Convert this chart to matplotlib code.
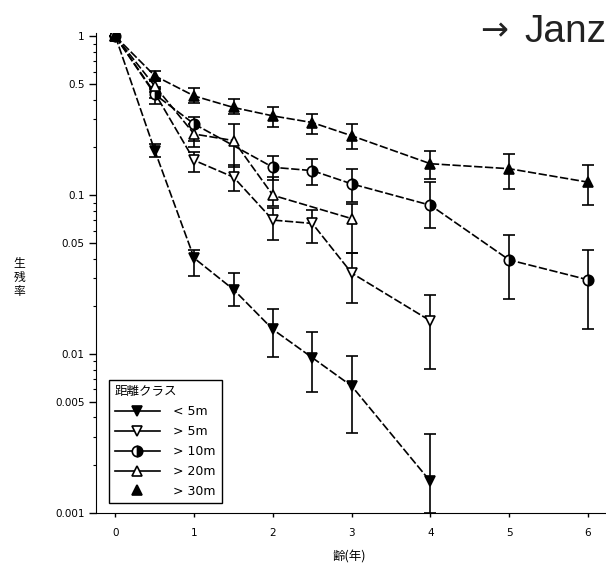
import numpy as np
import matplotlib
matplotlib.use('Agg')
import matplotlib.pyplot as plt
from matplotlib.lines import Line2D

plt.rcParams['font.family'] = ['DejaVu Sans', 'Noto Sans CJK JP']

# survival by distance class: age (years), mean, upper and lower error limits
age_lt5 = [0, 0.5, 1, 1.5, 2, 2.5, 3, 4]
surv_lt5 = [1.0, 0.191, 0.0402, 0.0255, 0.0143, 0.0095, 0.0063, 0.00158]
up_lt5 = [1.0, 0.21, 0.0452, 0.0324, 0.0191, 0.0137, 0.0097, 0.00316]
lo_lt5 = [1.0, 0.174, 0.0311, 0.0202, 0.0096, 0.0058, 0.0032, 0.001]

age_gt5 = [0, 0.5, 1, 1.5, 2, 2.5, 3, 4]
surv_gt5 = [1.0, 0.44, 0.166, 0.130, 0.0698, 0.0665, 0.0324, 0.0162]
up_gt5 = [1.0, 0.47, 0.187, 0.154, 0.0826, 0.0806, 0.0432, 0.0237]
lo_gt5 = [1.0, 0.41, 0.140, 0.107, 0.0522, 0.0499, 0.0210, 0.00805]

age_gt10 = [0, 0.5, 1, 2, 2.5, 3, 4, 5, 6]
surv_gt10 = [1.0, 0.432, 0.281, 0.150, 0.143, 0.118, 0.0866, 0.0392, 0.0294]
up_gt10 = [1.0, 0.48, 0.31, 0.178, 0.169, 0.147, 0.121, 0.0562, 0.0453]
lo_gt10 = [1.0, 0.374, 0.20, 0.124, 0.116, 0.091, 0.0619, 0.0221, 0.0143]

age_gt20 = [0, 0.5, 1, 1.5, 2, 3]
surv_gt20 = [1.0, 0.487, 0.243, 0.221, 0.100, 0.0713]
up_gt20 = [1.0, 0.53, 0.28, 0.281, 0.13, 0.0887]
lo_gt20 = [1.0, 0.45, 0.22, 0.150, 0.085, 0.0432]

age_gt30 = [0, 0.5, 1, 1.5, 2, 2.5, 3, 4, 5, 6]
surv_gt30 = [1.0, 0.565, 0.422, 0.357, 0.316, 0.287, 0.237, 0.158, 0.147, 0.121]
up_gt30 = [1.0, 0.604, 0.476, 0.402, 0.358, 0.324, 0.281, 0.191, 0.182, 0.154]
lo_gt30 = [1.0, 0.523, 0.380, 0.324, 0.269, 0.243, 0.196, 0.127, 0.110, 0.0866]

labels = ['< 5m', '> 5m', '> 10m', '> 20m', '> 30m']
yticks = [1, 0.5, 0.1, 0.05, 0.01, 0.005, 0.001]
yticklabels = ['1', '0.5', '0.1', '0.05', '0.01', '0.005', '0.001']
xticks = [0, 1, 2, 3, 4, 5, 6]

fig = plt.figure(figsize=(6.06, 5.70), dpi=100)
ax = fig.add_axes([0.158, 0.10, 0.842, 0.842])

styles = [
    dict(marker='v', mfc='k', mec='k'),
    dict(marker='v', mfc='white', mec='k'),
    dict(marker='o', mfc='k', mec='k', fillstyle='right', markerfacecoloralt='white'),
    dict(marker='^', mfc='white', mec='k'),
    dict(marker='^', mfc='k', mec='k'),
]
series = [
    (age_lt5, surv_lt5, up_lt5, lo_lt5),
    (age_gt5, surv_gt5, up_gt5, lo_gt5),
    (age_gt10, surv_gt10, up_gt10, lo_gt10),
    (age_gt20, surv_gt20, up_gt20, lo_gt20),
    (age_gt30, surv_gt30, up_gt30, lo_gt30),
]

for (x, y, up, lo), st in zip(series, styles):
    x = np.array(x); y = np.array(y); up = np.array(up); lo = np.array(lo)
    ax.errorbar(x, y, yerr=[y - lo, up - y], fmt='none', ecolor='k',
                elinewidth=1.2, capsize=4.5, capthick=1.2, zorder=2)
    ax.plot(x, y, color='k', lw=1.2, ls=(0, (5, 1.5)), ms=7.5, mew=1.2,
            zorder=3, **st)

ax.set_yscale('log')
ax.set_ylim(0.001, 1.05)
ax.set_xlim(-0.25, 6.23)
ax.set_yticks(yticks)
ax.set_yticklabels(yticklabels)
ax.set_xticks(xticks)
ax.set_xticklabels([str(t) for t in xticks])
ax.spines['top'].set_visible(False)
ax.spines['right'].set_visible(False)
ax.tick_params(axis='y', which='major', length=5, width=1, labelsize=7.5, pad=3)
ax.tick_params(axis='y', which='minor', length=2.5, width=0.8)
ax.tick_params(axis='x', which='major', length=3, width=1, labelsize=7.5, pad=8)
ax.tick_params(axis='x', which='minor', bottom=False)

fig.text(0.032, 0.513, '\n'.join('生残率'), ha='center', va='center',
         fontsize=8.5, linespacing=1.1, family=['Noto Sans CJK JP'])
fig.text(0.576, 0.022, '齢(年)', ha='center', va='center', fontsize=9,
         family=['Noto Sans CJK JP', 'DejaVu Sans'])
fig.text(0.793, 0.946, '→', ha='left', va='center', fontsize=24,
         family=['DejaVu Sans'], color='#222222')
fig.text(0.866, 0.927, 'Janz', ha='left', va='baseline', fontsize=28,
         family=['Liberation Sans', 'DejaVu Sans'], color='#222222')

handles = []
for i, st in enumerate(styles):
    ls = 'none' if i == 4 else '-'
    handles.append(Line2D([], [], color='k', lw=1.2, ls=ls, ms=7.5, mew=1.2, **st))
leg = ax.legend(handles, labels, title='距離クラス', loc='lower left',
                bbox_to_anchor=(0.026, 0.02), fontsize=9, title_fontsize=9,
                handlelength=3.6, handletextpad=1.1, labelspacing=0.55,
                borderpad=0.45, borderaxespad=0, alignment='left',
                frameon=True, fancybox=False, edgecolor='k', framealpha=1)
leg.get_frame().set_linewidth(1.0)

fig.savefig('out.png', dpi=100)
